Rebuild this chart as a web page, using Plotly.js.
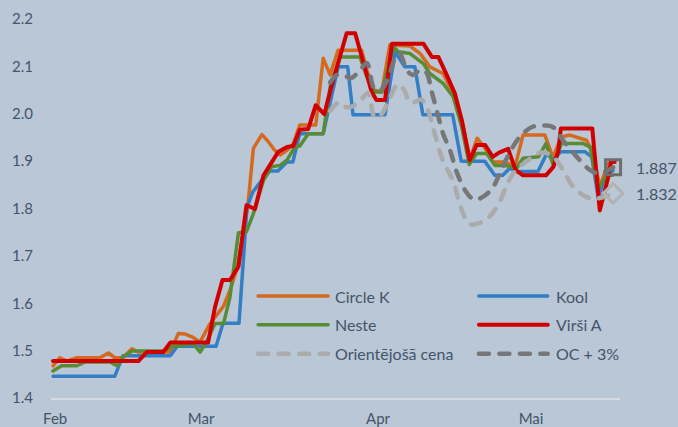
<!DOCTYPE html>
<html><head><meta charset="utf-8">
<script src="https://cdn.plot.ly/plotly-3.0.1.min.js"></script>
<style>
html,body{margin:0;padding:0;background:#bac7d6;}
#chart{width:678px;height:427px;}
.scatterlayer .js-line, .shapelayer path {stroke-linecap: round; stroke-linejoin: round;}
</style></head><body><div id="chart"></div>
<script>
// x = observation position (day index from start of series), months labelled on the axis
const monthLabels = ['Feb', 'Mar', 'Apr', 'Mai'];
const monthPos = [0.4, 27.8, 61.0, 89.7];

const seriesNames = ['Circle K', 'Kool', 'Neste', 'Virši A', 'Orientējošā cena', 'OC + 3%'];

const ckDay = [0,1.3,2.6,4.5,8.8,10.4,11.6,13.1,14.8,16.0,22.0,23.5,24.8,26.3,27.6,29.3,30.7,32.0,33.2,34.5,35.7,36.6,37.6,39.2,40.4,41.6,42.6,43.9,45.1,46.3,48.2,49.3,50.7,52.0,53.5,57.9,58.9,60.1,61.7,63.2,67.0,68.9,70.7,73.2,75.1,76.7,78.2,79.6,81.1,82.6,84.8,86.7,88.2,92.3,93.8,95.4,97.0,100.1,101.4,102.6,104.2,105.1];
const ckVal = [1.468,1.485,1.478,1.485,1.485,1.495,1.485,1.485,1.504,1.497,1.497,1.536,1.535,1.528,1.518,1.554,1.575,1.594,1.627,1.673,1.747,1.81,1.927,1.956,1.941,1.923,1.913,1.923,1.937,1.976,1.976,1.976,2.117,2.082,2.134,2.134,2.092,2.050,2.046,2.145,2.143,2.127,2.099,2.085,2.043,1.987,1.904,1.948,1.927,1.898,1.898,1.888,1.955,1.955,1.908,1.951,1.955,1.944,1.916,1.846,1.895,1.90];

const koolDay = [0,11.6,13.1,22.0,23.3,30.6,31.9,34.9,36.4,37.5,39.2,40.7,42.2,43.9,45.0,46.3,50.7,53.5,55.3,56.3,62.3,64.2,66.0,67.9,69.4,75.0,76.6,81.0,82.9,84.4,85.7,87.0,91.0,92.7,93.8,95.3,99.8,101.1,102.3,103.9,105.1];
const koolVal = [1.446,1.446,1.489,1.489,1.509,1.509,1.558,1.558,1.803,1.835,1.860,1.879,1.879,1.898,1.898,1.958,1.958,2.099,2.099,1.998,1.998,2.131,2.099,2.099,1.998,1.998,1.900,1.900,1.870,1.870,1.885,1.878,1.878,1.917,1.902,1.920,1.920,1.909,1.824,1.875,1.880];

const nesteDay = [0,1.6,4.5,6.0,10.7,12.0,13.2,14.8,20.6,22.3,26.3,27.6,28.8,30.4,32.0,33.2,34.8,36.3,37.6,39.5,41.0,42.6,43.9,45.4,46.3,47.9,50.7,52.0,53.9,57.6,58.9,60.4,61.7,63.9,64.8,67.0,69.5,70.7,73.2,75.1,76.7,78.1,79.5,81.4,82.9,84.8,87.0,88.2,91.1,92.5,93.9,95.4,99.5,100.8,102.3,103.9,105.0];
const nesteVal = [1.457,1.468,1.468,1.476,1.476,1.468,1.487,1.499,1.499,1.508,1.515,1.497,1.518,1.557,1.557,1.613,1.749,1.751,1.789,1.860,1.888,1.891,1.902,1.930,1.932,1.958,1.958,2.057,2.120,2.120,2.078,2.046,2.046,2.141,2.131,2.127,2.106,2.085,2.064,2.036,1.972,1.893,1.916,1.916,1.891,1.891,1.885,1.906,1.909,1.937,1.891,1.937,1.937,1.930,1.842,1.870,1.870];

const virsiDay = [0,16.0,17.6,20.7,22.0,29.1,30.4,31.8,33.2,34.8,36.3,37.9,39.5,40.7,42.3,43.9,45.1,46.3,47.9,49.3,50.9,52.3,55.1,56.7,58.2,59.8,60.7,62.3,63.6,69.5,71.1,72.3,73.6,75.4,76.7,78.2,79.5,81.1,82.5,83.7,85.4,86.8,88.2,92.5,93.9,94.8,95.3,101.2,102.6,104.2,104.7,105.4];
const virsiVal = [1.478,1.478,1.497,1.497,1.517,1.517,1.592,1.649,1.649,1.677,1.807,1.799,1.870,1.891,1.920,1.930,1.932,1.966,1.968,2.018,1.999,2.060,2.170,2.170,2.113,2.046,2.029,2.029,2.148,2.148,2.120,2.120,2.089,2.043,1.987,1.902,1.934,1.934,1.909,1.918,1.926,1.881,1.870,1.870,1.888,1.920,1.969,1.969,1.796,1.866,1.898,1.898];

const orientDay = [52.0,53.7,55.0,56.3,58.0,59.1,60.4,61.7,63.0,64.7,65.9,66.8,67.7,69.1,70.4,71.7,73.2,75.1,76.6,78.2,80.1,82.0,83.9,85.2,86.7,88.9,91.4,93.6,95.7,97.6,100.2,102.1,105.1];
const orientVal = [2.006,2.024,2.014,2.016,2.032,2.044,1.992,2.000,2.028,2.062,2.050,2.026,2.024,2.030,2.006,1.955,1.900,1.858,1.800,1.767,1.770,1.784,1.816,1.851,1.879,1.900,1.918,1.912,1.881,1.846,1.824,1.821,1.832];

const ocDay = [52.0,53.3,54.8,55.9,57.6,58.9,60.2,61.4,62.7,64.2,65.1,66.4,67.5,68.9,70.0,71.1,72.1,73.2,74.5,75.8,77.3,79.0,80.9,82.6,83.9,85.6,87.6,89.9,92.3,93.8,95.7,98.3,100.8,102.6,105.1];
const ocVal = [2.066,2.082,2.080,2.075,2.092,2.107,2.055,2.050,2.070,2.117,2.126,2.092,2.082,2.092,2.088,2.045,2.003,1.958,1.923,1.876,1.839,1.819,1.826,1.846,1.875,1.916,1.951,1.972,1.975,1.972,1.944,1.909,1.881,1.874,1.887];

const TEXT = '#44546a';
const FONT = 'Lato, "Noto Sans", sans-serif';
const styles = [
  {color: '#d46a1f', width: 3.5, dash: 'solid', shape: 'linear'},
  {color: '#337ec4', width: 3.5, dash: 'solid', shape: 'linear'},
  {color: '#578c35', width: 3.5, dash: 'solid', shape: 'linear'},
  {color: '#d10000', width: 4, dash: 'solid', shape: 'linear'},
  {color: '#ababab', width: 4.5, dash: '10px,10.5px', shape: 'spline'},
  {color: '#777777', width: 4.5, dash: '10px,10.5px', shape: 'spline'}
];
const xs = [ckDay, koolDay, nesteDay, virsiDay, orientDay, ocDay];
const ys = [ckVal, koolVal, nesteVal, virsiVal, orientVal, ocVal];

const traces = seriesNames.map((n, i) => ({
  type: 'scatter', mode: 'lines', name: n, x: xs[i], y: ys[i], showlegend: false,
  line: {color: styles[i].color, width: styles[i].width, dash: styles[i].dash, shape: styles[i].shape, smoothing: 1},
  hoverinfo: 'x+y', cliponaxis: false
}));

// end markers on the two reference-price series
const endMarks = [
  {i: 4, symbol: 'diamond-open', size: 15, color: '#b3b3b3'},
  {i: 5, symbol: 'square-open', size: 15, color: '#6e6e6e'}
];
const annotations = [];
endMarks.forEach(m => {
  const xd = xs[m.i], yd = ys[m.i];
  const lx = xd[xd.length - 1], ly = yd[yd.length - 1];
  traces.push({type: 'scatter', mode: 'markers', x: [lx], y: [ly], showlegend: false, cliponaxis: false,
    marker: {symbol: m.symbol, size: m.size, color: m.color, line: {color: m.color, width: 3}}});
  annotations.push({x: lx, y: ly, xref: 'x', yref: 'y', text: ly.toFixed(3), showarrow: false,
    xanchor: 'left', yanchor: 'middle', xshift: 21, font: {family: FONT, size: 16, color: TEXT}});
});

// legend (2 columns, 3 rows, inside plot area)
const legCols = [{x0: 0.364, x1: 0.487, tx: 0.496}, {x0: 0.752, x1: 0.873, tx: 0.884}];
const legRows = [0.269, 0.193, 0.117];
const shapes = [];
seriesNames.forEach((n, i) => {
  const c = legCols[i % 2], r = legRows[Math.floor(i / 2)];
  shapes.push({type: 'line', xref: 'paper', yref: 'paper', x0: c.x0, x1: c.x1, y0: r, y1: r,
    line: {color: styles[i].color, width: styles[i].width, dash: styles[i].dash}});
  annotations.push({xref: 'paper', yref: 'paper', x: c.tx, y: r, text: n, showarrow: false,
    xanchor: 'left', yanchor: 'middle', font: {family: FONT, size: 16, color: TEXT}});
});

const layout = {
  width: 678, height: 427,
  margin: {l: 51, r: 58, t: 19, b: 29, pad: 0},
  paper_bgcolor: '#bac7d6', plot_bgcolor: '#bac7d6',
  font: {family: FONT, size: 15, color: TEXT},
  showlegend: false,
  xaxis: {type: 'linear', range: [-0.38, 106.4], tickmode: 'array', tickvals: monthPos, ticktext: monthLabels,
    showgrid: false, zeroline: false, showline: true, linecolor: '#d7dbe0', linewidth: 2, ticks: '',
    ticklabelstandoff: 6, tickfont: {family: FONT, size: 15, color: TEXT}, fixedrange: true},
  yaxis: {range: [1.4, 2.2], tick0: 1.4, dtick: 0.1, tickformat: '.1f', showgrid: false, zeroline: false,
    showline: false, ticks: '', ticklabelstandoff: 17, tickfont: {family: FONT, size: 15, color: TEXT}, fixedrange: true},
  shapes: shapes, annotations: annotations
};

Plotly.newPlot('chart', traces, layout, {displayModeBar: false, staticPlot: true});
</script></body></html>
